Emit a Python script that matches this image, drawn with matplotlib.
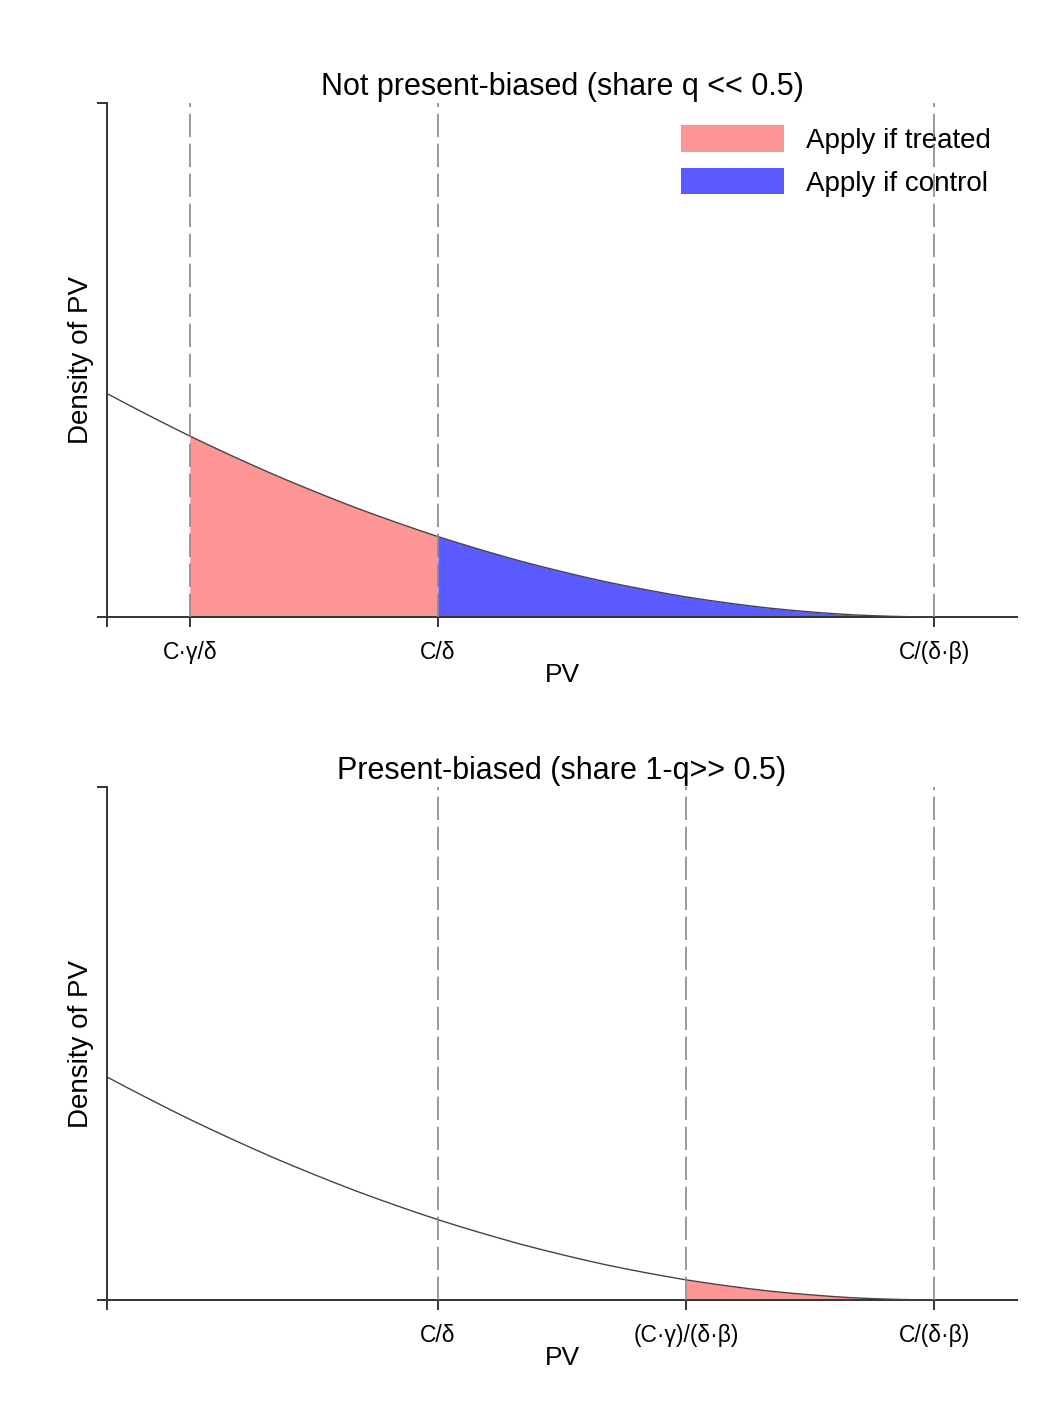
import matplotlib
matplotlib.use("Agg")
import matplotlib.pyplot as plt
from matplotlib.patches import Patch

plt.rcParams['font.family'] = ['Liberation Sans', 'DejaVu Sans']

# PV grid and density (density at PV=0 taken as 1)
pv = [0, 0.25, 0.5, 0.75, 1, 1.25, 1.5, 1.75, 2, 2.25, 2.5, 2.75, 3, 3.25, 3.5, 3.75,
      4, 4.25, 4.5, 4.75, 5, 5.25, 5.5, 5.75, 6, 6.25, 6.5, 6.75, 7, 7.25, 7.5, 7.75,
      8, 8.25, 8.5, 8.75, 9, 9.25, 9.5, 9.75, 10]
density = [1.000, 0.951, 0.903, 0.856, 0.810, 0.766, 0.723, 0.681, 0.640, 0.601,
           0.563, 0.526, 0.490, 0.456, 0.423, 0.391, 0.360, 0.331, 0.303, 0.276,
           0.250, 0.226, 0.203, 0.181, 0.160, 0.141, 0.123, 0.106, 0.090, 0.076,
           0.063, 0.051, 0.040, 0.031, 0.023, 0.016, 0.010, 0.006, 0.003, 0.001, 0.0]

# cutoffs on the PV axis
cutoffs_top = [1, 4, 10]
labels_top = ["C\u00b7\u03b3/\u03b4", "C/\u03b4", "C/(\u03b4\u00b7\u03b2)"]
cutoffs_bot = [4, 7, 10]
labels_bot = ["C/\u03b4", "(C\u00b7\u03b3)/(\u03b4\u00b7\u03b2)", "C/(\u03b4\u00b7\u03b2)"]

# shaded ranges (start, end)
treated_top = (1, 4)
control_top = (4, 10)
treated_bot = (7, 10)

titles = ["Not present-biased (share q << 0.5)", "Present-biased (share 1-q>> 0.5)"]

pink = '#ff9696'
blue = '#5b5bff'
ymax = 2.3

fig = plt.figure(figsize=(10.53, 14.11), dpi=100)
ax1 = fig.add_axes([0.1016, 0.5627, 0.8643, 0.3643])
ax2 = fig.add_axes([0.1016, 0.0787, 0.8643, 0.3635])


def seg(lo, hi):
    xs = [x for x in pv if lo <= x <= hi]
    ys = [density[pv.index(x)] for x in xs]
    return xs, ys


def setup(ax, title, cuts, labels):
    ax.set_xlim(0, 11)
    ax.set_ylim(0, ymax)
    ax.plot(pv, density, color='#444444', lw=1.0, zorder=4)
    for c in cuts:
        ax.axvline(c, color='#888888', lw=1.2, dashes=(14, 4), zorder=6)
    for s in ['top', 'right']:
        ax.spines[s].set_visible(False)
    for s in ['left', 'bottom']:
        ax.spines[s].set_color('#333333')
        ax.spines[s].set_linewidth(1.4)
    ax.set_xticks([0] + cuts)
    ax.set_xticklabels([""] + labels, fontsize=16.5)
    ax.set_yticks([0, ymax])
    ax.set_yticklabels(["", ""])
    ax.tick_params(direction='out', length=7.5, width=1.4, color='#333333', pad=10)
    for t in ax.get_xticklines() + ax.get_yticklines():
        t.set_clip_on(False)
    ax.set_title(title, fontsize=22, pad=6)
    ax.set_xlabel("PV", fontsize=19, labelpad=-1)
    ax.set_ylabel("Density of PV", fontsize=20, labelpad=-8)


setup(ax1, titles[0], cutoffs_top, labels_top)
setup(ax2, titles[1], cutoffs_bot, labels_bot)

xs, ys = seg(*treated_top)
ax1.fill_between(xs, ys, 0, color=pink, lw=0, zorder=2)
xs, ys = seg(*control_top)
ax1.fill_between(xs, ys, 0, color=blue, lw=0, zorder=2)
xs, ys = seg(*treated_bot)
ax2.fill_between(xs, ys, 0, color=pink, lw=0, zorder=2)

handles = [Patch(facecolor=pink, edgecolor='none'), Patch(facecolor=blue, edgecolor='none')]
leg = ax1.legend(handles, ["Apply if treated", "Apply if control"], loc='upper left',
                 bbox_to_anchor=(0.631, 0.957), frameon=False, fontsize=20,
                 borderpad=0, borderaxespad=0, handlelength=3.7, handleheight=1.1,
                 labelspacing=0.5, handletextpad=0.8)
leg.set_zorder(3)

fig.savefig("out.png", dpi=100, facecolor='white')
